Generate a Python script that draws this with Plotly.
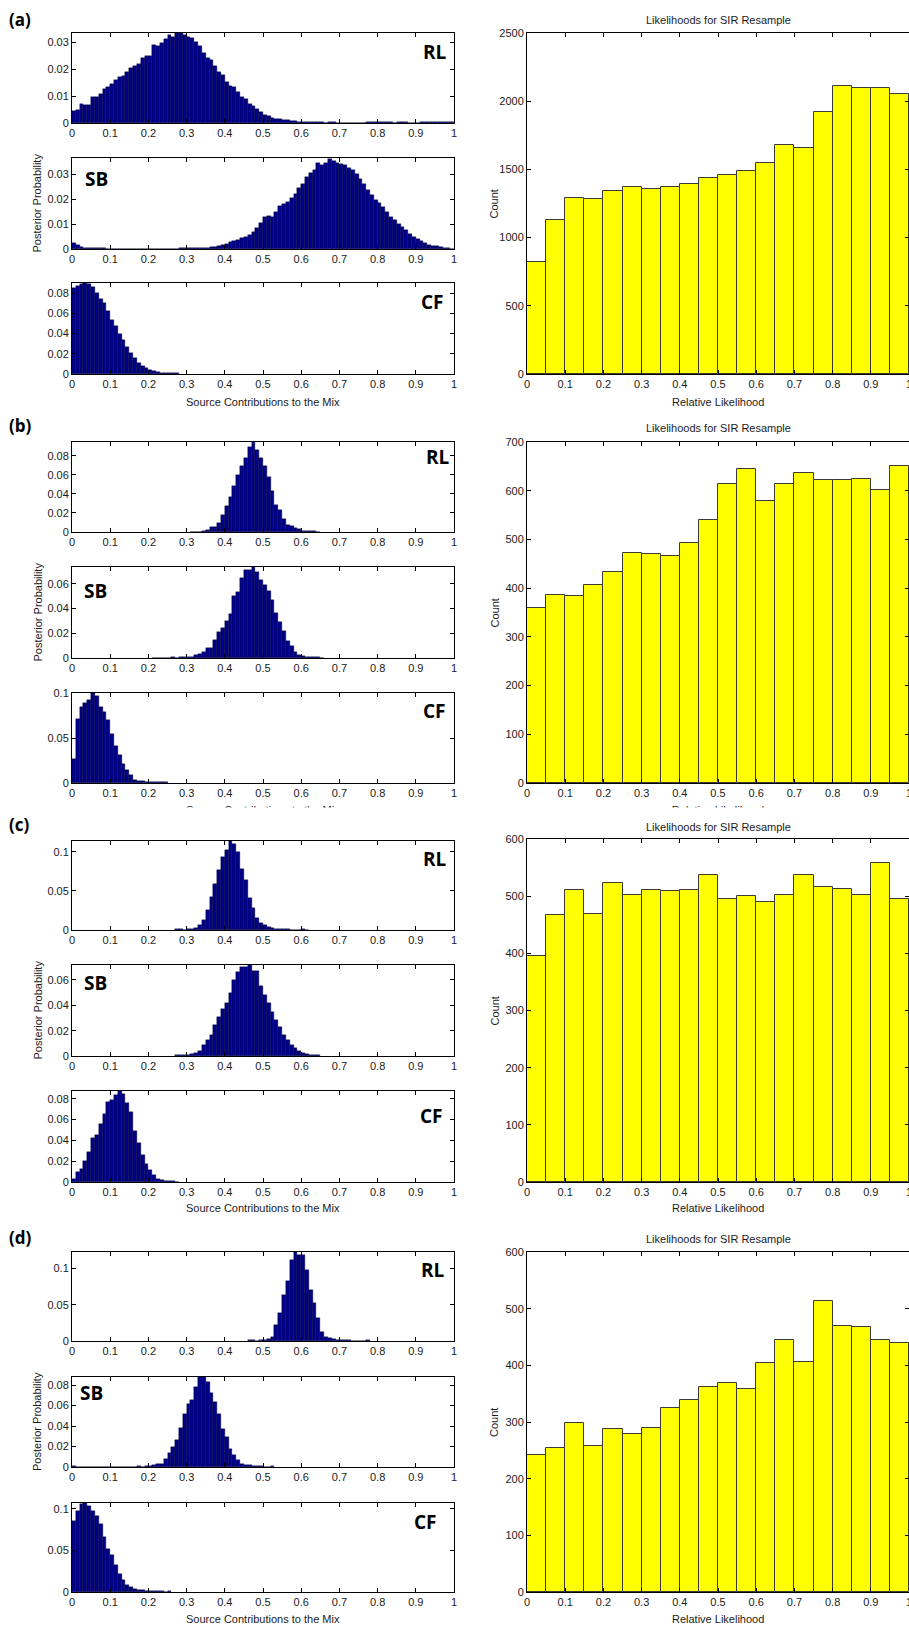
import plotly.graph_objects as go

# ---------------- DATA ----------------
# Left histograms: 100 bins of width 0.01 on [0,1]; START = index of first listed bin
A_RL_START = 0
A_RL = [0.0044, 0.0047, 0.0070, 0.0066, 0.0067, 0.0096, 0.0096, 0.0107, 0.0125, 0.0135,
        0.0145, 0.0160, 0.0172, 0.0175, 0.0190, 0.0205, 0.0210, 0.0220, 0.0240, 0.0247,
        0.0250, 0.0290, 0.0287, 0.0296, 0.0313, 0.0328, 0.0320, 0.0334, 0.0333, 0.0327,
        0.0320, 0.0315, 0.0300, 0.0284, 0.0260, 0.0240, 0.0234, 0.0213, 0.0190, 0.0178,
        0.0153, 0.0138, 0.0132, 0.0116, 0.0097, 0.0088, 0.0072, 0.0062, 0.0051, 0.0041,
        0.0031, 0.0026, 0.0020, 0.0016, 0.0014, 0.0012, 0.0010, 0.0008, 0.0006, 0.0005,
        0.0003, 0.0002, 0.0004, 0.0002, 0.0002, 0.0002, 0.0001, 0.0002, 0.0002, 0.0001,
        0.0001, 0.0001, 0.0001, 0.0001, 0.0001, 0.0001, 0.0000, 0.0002, 0.0002, 0.0002,
        0.0002, 0.0002, 0.0002, 0.0002, 0.0001, 0.0002, 0.0002, 0.0002, 0.0001, 0.0001,
        0.0000, 0.0004, 0.0004, 0.0005, 0.0005, 0.0005, 0.0005, 0.0005, 0.0004, 0.0002]
A_SB_START = 0
A_SB = [0.0023, 0.0016, 0.0007, 0.0004, 0.0004, 0.0004, 0.0004, 0.0004, 0.0003, 0.0002,
        0.0001, 0.0000, 0.0000, 0.0001, 0.0000, 0.0000, 0.0000, 0.0000, 0.0000, 0.0000,
        0.0000, 0.0000, 0.0002, 0.0002, 0.0002, 0.0002, 0.0002, 0.0002, 0.0003, 0.0003,
        0.0004, 0.0004, 0.0004, 0.0005, 0.0006, 0.0006, 0.0007, 0.0009, 0.0012, 0.0016,
        0.0022, 0.0027, 0.0031, 0.0038, 0.0044, 0.0050, 0.0058, 0.0068, 0.0085, 0.0105,
        0.0128, 0.0132, 0.0130, 0.0150, 0.0172, 0.0180, 0.0188, 0.0205, 0.0222, 0.0245,
        0.0262, 0.0290, 0.0305, 0.0318, 0.0343, 0.0338, 0.0345, 0.0360, 0.0352, 0.0345,
        0.0342, 0.0335, 0.0325, 0.0318, 0.0300, 0.0280, 0.0262, 0.0238, 0.0215, 0.0198,
        0.0185, 0.0170, 0.0150, 0.0130, 0.0115, 0.0100, 0.0090, 0.0075, 0.0062, 0.0050,
        0.0040, 0.0033, 0.0025, 0.0018, 0.0014, 0.0011, 0.0010, 0.0006, 0.0004, 0.0002]
A_CF_START = 0
A_CF = [0.0850, 0.0866, 0.0890, 0.0900, 0.0890, 0.0860, 0.0800, 0.0744, 0.0700, 0.0625,
        0.0535, 0.0470, 0.0400, 0.0337, 0.0270, 0.0205, 0.0155, 0.0106, 0.0083, 0.0056,
        0.0040, 0.0026, 0.0017, 0.0012, 0.0010, 0.0008, 0.0008, 0.0006]

B_RL_START = 31
B_RL = [0.0002, 0.0003, 0.0005, 0.0012, 0.0025, 0.0048, 0.0050, 0.0094, 0.0180,
        0.0270, 0.0367, 0.0486, 0.0600, 0.0690, 0.0776, 0.0890, 0.0943, 0.0860, 0.0775,
        0.0690, 0.0580, 0.0426, 0.0286, 0.0234, 0.0140, 0.0077, 0.0060, 0.0042, 0.0030,
        0.0015, 0.0012, 0.0010, 0.0008, 0.0003]
B_SB_START = 21
B_SB = [0.0003, 0.0004, 0.0003, 0.0004, 0.0004, 0.0005, 0.0004, 0.0005, 0.0006,
        0.0008, 0.0012, 0.0024, 0.0035, 0.0049, 0.0081, 0.0085, 0.0143, 0.0210, 0.0246,
        0.0300, 0.0357, 0.0499, 0.0534, 0.0650, 0.0715, 0.0715, 0.0737, 0.0700, 0.0630,
        0.0590, 0.0540, 0.0470, 0.0364, 0.0290, 0.0215, 0.0134, 0.0095, 0.0046, 0.0027,
        0.0013, 0.0008, 0.0005, 0.0005, 0.0005, 0.0004]
B_CF_START = 0
B_CF = [0.0267, 0.0715, 0.0844, 0.0890, 0.0926, 0.1000, 0.0963, 0.0850, 0.0785, 0.0696,
        0.0544, 0.0407, 0.0307, 0.0211, 0.0148, 0.0085, 0.0037, 0.0026, 0.0018, 0.0015,
        0.0008, 0.0007, 0.0007, 0.0006, 0.0006]

C_RL_START = 27
C_RL = [0.0007, 0.0008, 0.0004, 0.0007, 0.0010, 0.0020, 0.0064, 0.0127, 0.0254,
        0.0424, 0.0585, 0.0763, 0.0932, 0.1025, 0.1136, 0.1100, 0.0996, 0.0784, 0.0644,
        0.0403, 0.0275, 0.0148, 0.0085, 0.0064, 0.0042, 0.0020, 0.0017, 0.0012, 0.0012,
        0.0008, 0.0003, 0.0003, 0.0003, 0.0007, 0.0002]
C_SB_START = 27
C_SB = [0.0005, 0.0007, 0.0008, 0.0010, 0.0013, 0.0026, 0.0042, 0.0084, 0.0126,
        0.0166, 0.0245, 0.0305, 0.0368, 0.0416, 0.0500, 0.0600, 0.0666, 0.0705, 0.0700,
        0.0718, 0.0674, 0.0674, 0.0553, 0.0480, 0.0416, 0.0350, 0.0284, 0.0226, 0.0166,
        0.0126, 0.0087, 0.0060, 0.0042, 0.0026, 0.0016, 0.0010, 0.0005, 0.0005]
C_CF_START = 0
C_CF = [0.0032, 0.0096, 0.0128, 0.0200, 0.0290, 0.0420, 0.0450, 0.0560, 0.0650, 0.0770,
        0.0787, 0.0835, 0.0874, 0.0850, 0.0755, 0.0675, 0.0490, 0.0370, 0.0257, 0.0177,
        0.0112, 0.0064, 0.0032, 0.0019, 0.0013, 0.0010, 0.0010, 0.0003]

D_RL_START = 46
D_RL = [0.0009, 0.0009, 0.0005, 0.0008, 0.0014, 0.0028, 0.0060, 0.0221, 0.0382,
        0.0636, 0.0820, 0.1120, 0.1226, 0.1190, 0.1190, 0.0980, 0.0696, 0.0520, 0.0313,
        0.0129, 0.0060, 0.0037, 0.0028, 0.0018, 0.0009, 0.0009, 0.0009, 0.0005, 0.0005,
        0.0000, 0.0000, 0.0007]
D_SB_START = 0
D_SB = [0.0010, 0.0004, 0.0000, 0.0000, 0.0000, 0.0000, 0.0000, 0.0000, 0.0000, 0.0000,
        0.0000, 0.0000, 0.0000, 0.0000, 0.0000, 0.0000, 0.0000, 0.0005, 0.0000, 0.0005,
        0.0007, 0.0016, 0.0026, 0.0033, 0.0081, 0.0140, 0.0195, 0.0260, 0.0384, 0.0520,
        0.0611, 0.0650, 0.0780, 0.0878, 0.0878, 0.0830, 0.0720, 0.0634, 0.0520, 0.0374,
        0.0293, 0.0179, 0.0114, 0.0065, 0.0033, 0.0023, 0.0016, 0.0013, 0.0010, 0.0007,
        0.0000, 0.0000, 0.0007]
D_CF_START = 0
D_CF = [0.0850, 0.0980, 0.1060, 0.1070, 0.1030, 0.0980, 0.0920, 0.0820, 0.0660, 0.0520,
        0.0440, 0.0320, 0.0220, 0.0140, 0.0080, 0.0060, 0.0040, 0.0028, 0.0020, 0.0016,
        0.0012, 0.0012, 0.0008, 0.0008, 0.0000, 0.0008]

# Right histograms: 20 bins of width 0.05 on [0,1] (counts)
A_LIK = [820, 1130, 1290, 1280, 1340, 1370, 1360, 1370, 1390, 1440,
         1460, 1490, 1545, 1680, 1660, 1920, 2110, 2100, 2100, 2050]
B_LIK = [360, 385, 383, 407, 433, 472, 470, 467, 492, 540,
         613, 644, 578, 613, 637, 623, 621, 625, 601, 650]
C_LIK = [395, 467, 511, 468, 523, 502, 511, 509, 511, 537,
         495, 500, 490, 502, 537, 516, 512, 502, 558, 495]
D_LIK = [241, 255, 298, 257, 288, 279, 290, 325, 339, 361,
         368, 359, 405, 445, 406, 513, 470, 467, 445, 440]

# Tick labels
X_TICKS = [0, 0.1, 0.2, 0.3, 0.4, 0.5, 0.6, 0.7, 0.8, 0.9, 1]
X_TICKTEXT = ["0", "0.1", "0.2", "0.3", "0.4", "0.5", "0.6", "0.7", "0.8", "0.9", "1"]
Y_T01 = [0, 0.01, 0.02, 0.03]
Y_T02_08 = [0, 0.02, 0.04, 0.06, 0.08]
Y_T02_06 = [0, 0.02, 0.04, 0.06]
Y_T05 = [0, 0.05, 0.1]
LIK_T_A = [0, 500, 1000, 1500, 2000, 2500]
LIK_T_B = [0, 100, 200, 300, 400, 500, 600, 700]
LIK_T_CD = [0, 100, 200, 300, 400, 500, 600]

SOURCES = ["RL", "SB", "CF"]
LETTERS = ["(a)", "(b)", "(c)", "(d)"]

# ---------------- LAYOUT (pixels) ----------------
W, H = 909, 1627
def fx(p): return p / W
def fy(p): return 1 - p / H

PANELS = [
    dict(hists=[(A_RL_START, A_RL, Y_T01, 0.0334), (A_SB_START, A_SB, Y_T01, 0.0364), (A_CF_START, A_CF, Y_T02_08, 0.090)],
         lik=(A_LIK, LIK_T_A, 2500),
         left=[(33, 123), (158, 249), (283, 374)], right=(33, 374),
         letter_y=19, title_y=20, xlabel_y=402,
         src_pos=[(435, 52), (96, 179), (432, 302)]),
    dict(hists=[(B_RL_START, B_RL, Y_T02_08, 0.0943), (B_SB_START, B_SB, Y_T02_06, 0.0737), (B_CF_START, B_CF, Y_T05, 0.100)],
         lik=(B_LIK, LIK_T_B, 700),
         left=[(442, 532), (567, 658), (693, 783)], right=(442, 783),
         letter_y=425, title_y=428, xlabel_y=None,
         src_pos=[(438, 457), (95, 591), (434, 711)]),
    dict(hists=[(C_RL_START, C_RL, Y_T05, 0.1136), (C_SB_START, C_SB, Y_T02_06, 0.0718), (C_CF_START, C_CF, Y_T02_08, 0.0874)],
         lik=(C_LIK, LIK_T_CD, 600),
         left=[(841, 930), (965, 1056), (1091, 1182)], right=(839, 1182),
         letter_y=825, title_y=827, xlabel_y=1208,
         src_pos=[(435, 859), (95, 983), (431, 1116)]),
    dict(hists=[(D_RL_START, D_RL, Y_T05, 0.1226), (D_SB_START, D_SB, Y_T02_08, 0.0878), (D_CF_START, D_CF, Y_T05, 0.1072)],
         lik=(D_LIK, LIK_T_CD, 600),
         left=[(1252, 1341), (1377, 1467), (1503, 1592)], right=(1252, 1592),
         letter_y=1237, title_y=1239, xlabel_y=1619,
         src_pos=[(433, 1270), (91, 1393), (425, 1522)]),
]

LEFT_X = (72, 454)
RIGHT_X = (527, 909)
TICK_FONT = dict(family="Liberation Sans, Arial, sans-serif", size=11, color="#1a1a1a")
LABEL_FONT = dict(family="Liberation Sans, Arial, sans-serif", size=11, color="#1a1a1a")
BOLD_FONT = dict(family="Open Sans, Noto Sans, sans-serif", size=19, color="black")

fig = go.Figure()
layout = dict(width=W, height=H, margin=dict(l=0, r=0, t=0, b=0, autoexpand=False),
              paper_bgcolor="white", plot_bgcolor="white", showlegend=False,
              bargap=0, annotations=[], shapes=[])

def axis_common():
    return dict(showline=True, linecolor="black", linewidth=1, mirror="ticks",
                ticks="inside", ticklen=4, tickcolor="black", tickwidth=1,
                showgrid=False, zeroline=False, tickfont=TICK_FONT, fixedrange=True,
                automargin=False, ticklabeloverflow="allow")

def fmt(v):
    return "%g" % v

n = 0
for pi, P in enumerate(PANELS):
    for hi, (start, vals, yt, ymax) in enumerate(P["hists"]):
        n += 1
        xs = [(start + i) * 0.01 + 0.005 for i in range(len(vals))]
        fig.add_trace(go.Bar(x=xs, y=vals, width=0.01, xaxis="x%d" % n, yaxis="y%d" % n,
                             marker=dict(color="#000088", line=dict(color="#000022", width=0.4))))
        top, bot = P["left"][hi]
        xa = axis_common(); xa.update(domain=[fx(LEFT_X[0]), fx(LEFT_X[1])], range=[0, 1],
                                      tickvals=X_TICKS, ticktext=X_TICKTEXT, anchor="y%d" % n)
        ya = axis_common(); ya.update(domain=[fy(bot), fy(top)], range=[0, ymax],
                                      tickvals=yt, ticktext=[fmt(v) for v in yt], anchor="x%d" % n)
        layout["xaxis%d" % n] = xa
        layout["yaxis%d" % n] = ya
        sx, sy = P["src_pos"][hi]
        layout["annotations"].append(dict(text="<b>%s</b>" % SOURCES[hi], x=fx(sx), y=fy(sy),
                                          xref="paper", yref="paper", showarrow=False,
                                          font=BOLD_FONT, xanchor="center", yanchor="middle"))
    # right likelihood histogram
    n += 1
    lik, lt, lmax = P["lik"]
    xs = [i * 0.05 + 0.025 for i in range(len(lik))]
    fig.add_trace(go.Bar(x=xs, y=lik, width=0.05, xaxis="x%d" % n, yaxis="y%d" % n,
                         marker=dict(color="#ffff00", line=dict(color="#3a3a3a", width=1))))
    top, bot = P["right"]
    xa = axis_common(); xa.update(domain=[fx(RIGHT_X[0]), fx(RIGHT_X[1])], range=[0, 1],
                                  tickvals=X_TICKS, ticktext=X_TICKTEXT, anchor="y%d" % n)
    ya = axis_common(); ya.update(domain=[fy(bot), fy(top)], range=[0, lmax],
                                  tickvals=lt, ticktext=[str(v) for v in lt], anchor="x%d" % n)
    layout["xaxis%d" % n] = xa
    layout["yaxis%d" % n] = ya

    ann = layout["annotations"]
    ann.append(dict(text="<b>%s</b>" % LETTERS[pi], x=fx(7), y=fy(P["letter_y"]), xref="paper", yref="paper",
                    showarrow=False, xanchor="left", yanchor="middle",
                    font=dict(family="Open Sans, Noto Sans, sans-serif", size=17, color="black")))
    ann.append(dict(text="Likelihoods for SIR Resample", x=fx((RIGHT_X[0] + RIGHT_X[1]) / 2), y=fy(P["title_y"]),
                    xref="paper", yref="paper", showarrow=False, xanchor="center", yanchor="middle", font=LABEL_FONT))
    ann.append(dict(text="Count", x=fx(494), y=fy((top + bot) / 2), xref="paper", yref="paper",
                    showarrow=False, textangle=-90, xanchor="center", yanchor="middle", font=LABEL_FONT))
    sb_top, sb_bot = P["left"][1]
    ann.append(dict(text="Posterior Probability", x=fx(37), y=fy((sb_top + sb_bot) / 2), xref="paper", yref="paper",
                    showarrow=False, textangle=-90, xanchor="center", yanchor="middle", font=LABEL_FONT))
    if P["xlabel_y"] is not None:
        ann.append(dict(text="Source Contributions to the Mix", x=fx((LEFT_X[0] + LEFT_X[1]) / 2), y=fy(P["xlabel_y"]),
                        xref="paper", yref="paper", showarrow=False, xanchor="center", yanchor="middle", font=LABEL_FONT))
        ann.append(dict(text="Relative Likelihood", x=fx((RIGHT_X[0] + RIGHT_X[1]) / 2), y=fy(P["xlabel_y"]),
                        xref="paper", yref="paper", showarrow=False, xanchor="center", yanchor="middle", font=LABEL_FONT))

# Panel (b) axis labels are cut off in the source figure: draw them as text clipped by a hidden strip axis
n += 1
CLIP_TOP, CLIP_BOT = 795, 807.5
fig.add_trace(go.Scatter(x=[(LEFT_X[0] + LEFT_X[1]) / 2, (RIGHT_X[0] + RIGHT_X[1]) / 2],
                         y=[CLIP_BOT - 811, CLIP_BOT - 811], mode="text",
                         text=["Source Contributions to the Mix", "Relative Likelihood"],
                         textfont=LABEL_FONT, textposition="middle center", cliponaxis=True,
                         xaxis="x%d" % n, yaxis="y%d" % n, hoverinfo="skip"))
layout["xaxis%d" % n] = dict(domain=[0, 1], range=[0, W], visible=False, anchor="y%d" % n, fixedrange=True)
layout["yaxis%d" % n] = dict(domain=[fy(CLIP_BOT), fy(CLIP_TOP)], range=[0, CLIP_BOT - CLIP_TOP],
                             visible=False, anchor="x%d" % n, fixedrange=True)

fig.update_layout(**layout)
fig.write_html("out.html", config={"displayModeBar": False},
               post_script="document.body.style.margin='0';document.body.style.overflow='hidden';")
